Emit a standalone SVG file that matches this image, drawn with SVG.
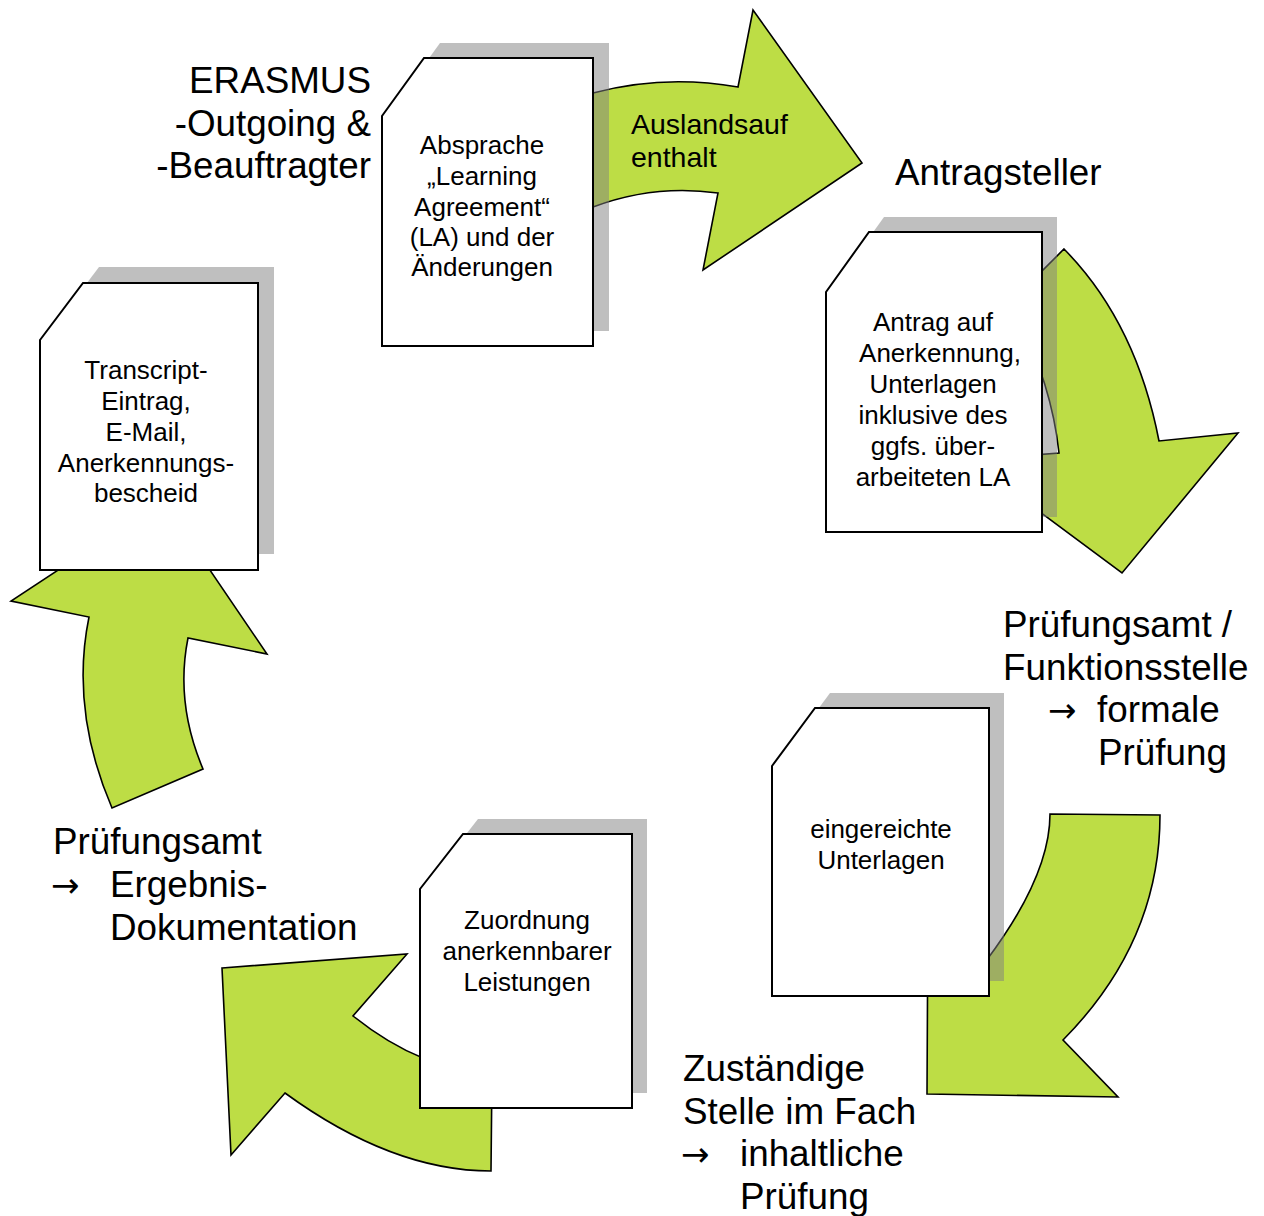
<svg xmlns="http://www.w3.org/2000/svg" width="1264" height="1216" viewBox="0 0 1264 1216">
<style>
.arrow{fill:#bddd45;stroke:#000;stroke-width:1.6;stroke-linejoin:miter}
.shadow{fill:#808080;fill-opacity:0.5}
.doc{fill:#fff;stroke:#000;stroke-width:2}
.dt{font-family:"Liberation Sans",Arial,sans-serif;font-size:26px;fill:#000;text-anchor:middle}
.lbl{font-family:"Liberation Sans",Arial,sans-serif;font-size:36.8px;fill:#000}
.arr{font-family:"DejaVu Sans",sans-serif;font-size:34px}
.al{font-family:"Liberation Sans",Arial,sans-serif;font-size:28.5px;fill:#000}
</style>
<rect width="1264" height="1216" fill="#fff"/>
<g id="connectors">
  <path class="arrow" d="M575,98 L593,93 Q664,74 738,87 L753,10 L862,163 L703,270 L718,193 Q654,184 593,207 L575,212 Z"/>
  <path class="arrow" d="M1010,303 L1064,249 Q1136,322 1159,441 L1238,433 L1122,573 L970,460 L1059,453 Q1051,378 1010,303 Z"/>
  <path class="arrow" d="M1050,814 L1160,815 Q1160,942 1063,1040 L1118,1097 L927,1094 L928,900 L986,961 Q1050,876 1050,814 Z"/>
  <path class="arrow" d="M222,968 L407,954 L353,1016 Q423,1072 492,1072 L491,1171 Q392,1171 285,1093 L231,1155 Z"/>
  <path class="arrow" d="M163,501 L11,601 L89,617 Q70,710 112,808 L203,769 Q175,703 188,638 L267,654 Z"/>
  <text class="al" x="631" y="134">Auslandsauf</text>
  <text class="al" x="631" y="167">enthalt</text>
</g>
<g id="node-absprache">
  <path class="shadow" transform="translate(16,-15)" d="M424,58 H593 V346 H382 V116 Z"/>
  <path class="doc" d="M424,58 H593 V346 H382 V116 Z"/>
  <text class="dt" x="482" y="154">Absprache</text>
  <text class="dt" x="482" y="185">„Learning</text>
  <text class="dt" x="482" y="216">Agreement“</text>
  <text class="dt" x="482" y="246">(LA) und der</text>
  <text class="dt" x="482" y="276">Änderungen</text>
</g>
<g id="node-antrag">
  <path class="shadow" transform="translate(15,-15)" d="M869,232 H1042 V532 H826 V292 Z"/>
  <path class="doc" d="M869,232 H1042 V532 H826 V292 Z"/>
  <text class="dt" x="933" y="331">Antrag auf</text>
  <text class="dt" x="940" y="362">Anerkennung,</text>
  <text class="dt" x="933" y="393">Unterlagen</text>
  <text class="dt" x="933" y="424">inklusive des</text>
  <text class="dt" x="933" y="455">ggfs. über-</text>
  <text class="dt" x="933" y="486">arbeiteten LA</text>
</g>
<g id="node-eingereicht">
  <path class="shadow" transform="translate(15,-15)" d="M815,708 H989 V996 H772 V766 Z"/>
  <path class="doc" d="M815,708 H989 V996 H772 V766 Z"/>
  <text class="dt" x="881" y="838">eingereichte</text>
  <text class="dt" x="881" y="869">Unterlagen</text>
</g>
<g id="node-zuordnung">
  <path class="shadow" transform="translate(15,-15)" d="M463,834 H632 V1108 H420 V889 Z"/>
  <path class="doc" d="M463,834 H632 V1108 H420 V889 Z"/>
  <text class="dt" x="527" y="929">Zuordnung</text>
  <text class="dt" x="527" y="960">anerkennbarer</text>
  <text class="dt" x="527" y="991">Leistungen</text>
</g>
<g id="node-transcript">
  <path class="shadow" transform="translate(16,-16)" d="M83,283 H258 V570 H40 V340 Z"/>
  <path class="doc" d="M83,283 H258 V570 H40 V340 Z"/>
  <text class="dt" x="146" y="379">Transcript-</text>
  <text class="dt" x="146" y="410">Eintrag,</text>
  <text class="dt" x="146" y="441">E-Mail,</text>
  <text class="dt" x="146" y="472">Anerkennungs-</text>
  <text class="dt" x="146" y="502">bescheid</text>
</g>
<g id="label-erasmus">
  <text class="lbl" x="371" y="93" text-anchor="end">ERASMUS</text>
  <text class="lbl" x="371" y="136" text-anchor="end">-Outgoing &amp;</text>
  <text class="lbl" x="371" y="178" text-anchor="end">-Beauftragter</text>
</g>
<g id="label-antragsteller">
  <text class="lbl" x="895" y="185">Antragsteller</text>
</g>
<g id="label-pruefungsamt-formal">
  <text class="lbl" x="1003" y="637">Prüfungsamt /</text>
  <text class="lbl" x="1003" y="680">Funktionsstelle</text>
  <text class="lbl" y="722"><tspan class="arr" x="1048">→</tspan><tspan x="1097">formale</tspan></text>
  <text class="lbl" x="1098" y="765">Prüfung</text>
</g>
<g id="label-fach">
  <text class="lbl" x="683" y="1081">Zuständige</text>
  <text class="lbl" x="683" y="1124">Stelle im Fach</text>
  <text class="lbl" y="1166"><tspan class="arr" x="681">→</tspan><tspan x="740">inhaltliche</tspan></text>
  <text class="lbl" x="740" y="1209">Prüfung</text>
</g>
<g id="label-pruefungsamt-doku">
  <text class="lbl" x="53" y="854">Prüfungsamt</text>
  <text class="lbl" y="897"><tspan class="arr" x="51">→</tspan><tspan x="110">Ergebnis-</tspan></text>
  <text class="lbl" x="110" y="940">Dokumentation</text>
</g>
</svg>
